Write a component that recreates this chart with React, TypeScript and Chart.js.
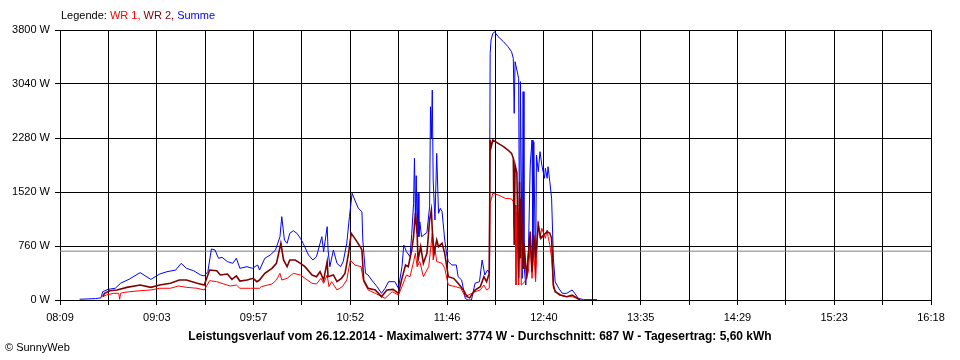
import { useEffect, useRef } from 'react';
import { Chart, registerables } from 'chart.js';

Chart.register(...registerables);

const FONT = '"Liberation Sans", Arial, sans-serif';

const xTickLabels = ['08:09', '09:03', '09:57', '10:52', '11:46', '12:40', '13:35', '14:29', '15:23', '16:18'];
const yTicks = [0, 760, 1520, 2280, 3040, 3800];
const averageW = 687;

const legendParts: [string, string][] = [
  ['Legende: ', '#000000'],
  ['WR 1, ', '#ff0000'],
  ['WR 2, ', '#800000'],
  ['Summe', '#0000ff'],
];
const titleText = 'Leistungsverlauf vom 26.12.2014 - Maximalwert: 3774 W - Durchschnitt: 687 W - Tagesertrag: 5,60 kWh';
const copyrightText = '\u00A9 SunnyWeb';

const summeTimes = [
  '08:20', '08:29', '08:32', '08:33', '08:36', '08:40', '08:43', '08:48', '08:54', '09:00', '09:05', '09:09', '09:14', '09:17', '09:20', '09:24', '09:28', '09:30', '09:32', '09:34', '09:36', '09:38', '09:40', '09:43', '09:46', '09:48', '09:50', '09:54', '09:57', '10:00', '10:01', '10:04', '10:07', '10:10', '10:12:30', '10:13:30', '10:15', '10:16:30', '10:18', '10:20', '10:22', '10:24', '10:25:30', '10:28:30', '10:31', '10:33', '10:35', '10:36', '10:37', '10:39', '10:39:30', '10:40:30', '10:42:30', '10:44:30', '10:46:30', '10:48', '10:50', '10:51:30', '10:53', '10:54:30', '10:56:30', '10:58:30', '10:59', '11:00:30', '11:02', '11:04', '11:07', '11:09:30', '11:11:30', '11:13:30', '11:17', '11:19', '11:21', '11:22', '11:23:30', '11:25:30', '11:26:30', '11:27:30', '11:28', '11:28:30', '11:29', '11:29:30', '11:30', '11:30:30', '11:31', '11:32', '11:35', '11:36:30', '11:37', '11:37:30', '11:38', '11:38:30', '11:39:30', '11:40:30', '11:41:30', '11:42:30', '11:43:30', '11:45', '11:46', '11:47', '11:49', '11:51:30', '11:52:30', '11:54:30', '11:56:30', '11:58', '12:00', '12:02', '12:04:30', '12:06', '12:07:30', '12:09', '12:10', '12:10:30', '12:11', '12:12', '12:13', '12:15', '12:18', '12:20:30', '12:22:30', '12:23:30', '12:24', '12:24:30', '12:26:30', '12:27', '12:27:30', '12:28:30', '12:29', '12:29:30', '12:30:30', '12:32', '12:33', '12:34', '12:34:30', '12:35', '12:36', '12:36:30', '12:37:30', '12:38:30', '12:39:30', '12:41', '12:41:30', '12:42:30', '12:43', '12:44', '12:45', '12:46', '12:47', '12:49', '12:51', '12:53:30', '12:56:30', '12:58', '13:00', '13:03', '13:10:30',
];
const summeValues = [
  10, 20, 30, 117, 150, 165, 235, 295, 385, 290, 366, 398, 422, 516, 446, 412, 352, 338, 398, 718, 704, 587, 601, 540, 516, 587, 446, 469, 446, 493, 422, 587, 633, 704, 891, 1173, 844, 798, 938, 975, 938, 868, 798, 633, 563, 610, 798, 891, 680, 1032, 704, 469, 704, 516, 469, 540, 798, 1173, 1502, 1407, 1290, 1243, 844, 375, 352, 281, 188, 94, 165, 258, 258, 165, 469, 774, 680, 610, 938, 1361, 1994, 1200, 1750, 938, 1502, 891, 1100, 891, 950, 1313, 2720, 2275, 2955, 1689, 1126, 2064, 1220, 1290, 1243, 844, 657, 540, 493, 493, 328, 281, 23, 0, 0, 235, 258, 563, 352, 422, 380, 3471, 3659, 3753, 3774, 3706, 3635, 3565, 3495, 3401, 2627, 3354, 3120, 587, 3073, 305, 2932, 493, 211, 700, 1900, 2252, 587, 2228, 305, 2041, 1806, 2088, 1900, 1713, 1853, 1713, 1876, 1665, 1431, 587, 258, 165, 94, 94, 141, 94, 23, 5, 5,
];

const wr2Times = [
  '08:33', '08:34', '08:37', '08:41', '08:46:30', '08:54', '09:00', '09:05', '09:11', '09:16', '09:20', '09:26', '09:30', '09:33', '09:37', '09:39', '09:43', '09:45:30', '09:48', '09:50', '09:54', '09:57:30', '09:59:30', '10:01', '10:04', '10:08', '10:10:30', '10:13', '10:14:30', '10:16:30', '10:18', '10:21', '10:24', '10:26:30', '10:30:30', '10:33', '10:35', '10:37', '10:39', '10:39:30', '10:42:30', '10:44:30', '10:47', '10:49', '10:51', '10:52:30', '10:54:30', '10:57:30', '10:58:30', '10:59:30', '11:02', '11:06', '11:09:30', '11:12:30', '11:16', '11:19', '11:21', '11:23', '11:24:30', '11:26:30', '11:27:30', '11:28:30', '11:29:30', '11:30', '11:31:30', '11:33', '11:35', '11:36:30', '11:37:30', '11:38', '11:39', '11:40:30', '11:41:30', '11:43:30', '11:45', '11:47', '11:50', '11:52:30', '11:55:30', '11:57:30', '11:59', '12:02', '12:05', '12:07', '12:08:30', '12:10', '12:10:30', '12:11', '12:12', '12:15', '12:18', '12:20:30', '12:22:30', '12:23:30', '12:24', '12:24:30', '12:25:30', '12:26:30', '12:27', '12:27:30', '12:28', '12:29', '12:29:30', '12:31', '12:33', '12:34', '12:35', '12:36', '12:37:30', '12:39', '12:40:30', '12:42:30', '12:44', '12:45', '12:46', '12:47', '12:50', '12:53:30', '12:56:30', '12:59', '13:01',
];
const wr2Values = [
  47, 94, 131, 141, 178, 211, 178, 211, 235, 281, 281, 235, 211, 422, 412, 352, 366, 291, 338, 267, 281, 305, 258, 281, 375, 446, 516, 798, 563, 469, 563, 563, 516, 469, 352, 328, 398, 281, 540, 328, 352, 258, 305, 375, 657, 938, 868, 751, 704, 281, 165, 141, 47, 141, 150, 94, 305, 493, 469, 704, 891, 1220, 938, 563, 751, 516, 657, 1126, 1267, 985, 657, 844, 751, 798, 657, 328, 305, 235, 141, 47, 30, 141, 188, 328, 258, 375, 2252, 2150, 2252, 2205, 2158, 2111, 2064, 1994, 774, 1900, 1790, 305, 1665, 587, 1431, 446, 800, 305, 962, 398, 915, 587, 1055, 868, 915, 962, 938, 868, 211, 117, 70, 47, 70, 33, 0,
];

const wr1Times = [
  '08:33', '08:35', '08:39', '08:42', '08:42:30', '08:43', '08:44', '08:48', '08:54', '09:00', '09:05', '09:11', '09:15:30', '09:20', '09:26', '09:30', '09:33', '09:37', '09:41', '09:44:30', '09:48', '09:50', '09:56', '10:01', '10:02', '10:08', '10:10:30', '10:12:30', '10:13:30', '10:16:30', '10:20', '10:24', '10:26:30', '10:30:30', '10:33', '10:35:30', '10:37', '10:39', '10:40', '10:41:30', '10:44:30', '10:47:30', '10:50', '10:52', '10:54:30', '10:58', '10:59:30', '11:02', '11:06', '11:11:30', '11:15:30', '11:19', '11:21', '11:23:30', '11:25:30', '11:27:30', '11:28:30', '11:29:30', '11:31', '11:33', '11:36', '11:37', '11:38', '11:38:30', '11:39:30', '11:40:30', '11:43:30', '11:45', '11:47', '11:51', '11:54', '11:56:30', '12:02', '12:05', '12:07', '12:08:30', '12:10', '12:10:30', '12:12', '12:15', '12:19', '12:22:30', '12:23:30', '12:24', '12:24:30', '12:25', '12:25:30', '12:26:30', '12:27:30', '12:28', '12:30', '12:32', '12:33', '12:34', '12:35', '12:36', '12:37:30', '12:38:30', '12:39:30', '12:41:30', '12:42:30', '12:43', '12:44', '12:45', '12:46', '12:49', '12:53', '12:56:30', '12:59', '13:01',
];
const wr1Values = [
  47, 70, 94, 94, 10, 94, 103, 117, 131, 141, 165, 165, 197, 178, 165, 141, 272, 258, 225, 197, 211, 165, 165, 165, 188, 225, 281, 375, 281, 305, 375, 352, 305, 235, 225, 305, 235, 352, 188, 258, 141, 188, 281, 563, 493, 469, 258, 141, 94, 23, 117, 70, 188, 352, 328, 540, 657, 469, 540, 328, 469, 704, 938, 563, 727, 540, 516, 446, 211, 188, 165, 47, 117, 141, 211, 141, 165, 1361, 1502, 1478, 1431, 1422, 1384, 1009, 1337, 211, 1243, 211, 1200, 211, 258, 400, 774, 305, 680, 258, 1103, 868, 1009, 868, 985, 891, 774, 587, 165, 70, 47, 47, 23, 0,
];

function toMin(s: string): number {
  const p = s.split(':').map(Number);
  return p[0] * 60 + p[1] + (p[2] || 0) / 60;
}

function series(times: string[], values: number[]) {
  return times.map((t, i) => ({ x: toMin(t), y: values[i] }));
}

export default function App() {
  const ref = useRef<HTMLCanvasElement>(null);

  useEffect(() => {
    document.body.style.margin = '0';
    const canvas = ref.current!;
    const xMin = toMin(xTickLabels[0]);
    const xMax = toMin(xTickLabels[xTickLabels.length - 1]);
    const nGrid = (xTickLabels.length - 1) * 2;
    const step = (xMax - xMin) / nGrid;

    const textPlugin = {
      id: 'sunnyTexts',
      afterDraw(chart: any) {
        const c = chart.ctx;
        c.save();
        c.textBaseline = 'middle';
        c.textAlign = 'left';
        c.font = `11px ${FONT}`;
        let x = 61;
        for (const [t, col] of legendParts) {
          c.fillStyle = col;
          c.fillText(t, x, 16);
          x += c.measureText(t).width;
        }
        c.fillStyle = '#000';
        c.fillText(copyrightText, 5, 348);
        c.font = `bold 12px ${FONT}`;
        c.textAlign = 'center';
        c.fillText(titleText, 480, 337);
        c.restore();
      },
    };

    const chart = new Chart(canvas, {
      type: 'line',
      data: {
        datasets: [
          { label: 'WR 2', data: series(wr2Times, wr2Values), borderColor: '#800000', borderWidth: 1.6, pointRadius: 0, tension: 0, fill: false },
          { label: 'WR 1', data: series(wr1Times, wr1Values), borderColor: '#ff0000', borderWidth: 1, pointRadius: 0, tension: 0, fill: false },
          { label: 'Summe', data: series(summeTimes, summeValues), borderColor: '#0000ff', borderWidth: 1, pointRadius: 0, tension: 0, fill: false },
          { label: 'Durchschnitt', data: [{ x: xMin, y: averageW }, { x: xMax, y: averageW }], borderColor: '#808080', borderWidth: 1, pointRadius: 0, tension: 0, fill: false },
        ],
      },
      options: {
        responsive: false,
        animation: false,
        devicePixelRatio: 1,
        parsing: false as any,
        layout: { padding: { left: 0, right: 29, top: 30, bottom: 0 } },
        plugins: {
          legend: { display: false },
          tooltip: { enabled: false },
          title: { display: false },
        },
        scales: {
          x: {
            type: 'linear',
            min: xMin,
            max: xMax,
            afterBuildTicks: (s: any) => {
              s.ticks = Array.from({ length: nGrid + 1 }, (_, i) => ({ value: xMin + i * step }));
            },
            afterFit: (s: any) => {
              s.height = 60;
            },
            ticks: {
              autoSkip: false,
              maxRotation: 0,
              minRotation: 0,
              padding: 6,
              color: '#000',
              font: { family: FONT, size: 11 },
              callback: (_v: any, i: number) => (i % 2 === 0 ? xTickLabels[i / 2] : ''),
            },
            grid: { color: '#000', lineWidth: 1, tickLength: 5, drawTicks: true },
            border: { display: true, color: '#000', width: 1 },
          },
          y: {
            type: 'linear',
            min: yTicks[0],
            max: yTicks[yTicks.length - 1],
            afterBuildTicks: (s: any) => {
              s.ticks = yTicks.map((v) => ({ value: v }));
            },
            afterFit: (s: any) => {
              s.width = 60;
            },
            ticks: {
              padding: 5,
              color: '#000',
              font: { family: FONT, size: 11 },
              callback: (v: any) => `${v} W`,
            },
            grid: { color: '#000', lineWidth: 1, tickLength: 5, drawTicks: true },
            border: { display: true, color: '#000', width: 1 },
          },
        },
      },
      plugins: [textPlugin],
    });
    return () => chart.destroy();
  }, []);

  return (
    <div style={{ position: 'absolute', left: 0, top: 0, width: 960, height: 360, background: '#fff' }}>
      <canvas ref={ref} width={960} height={360} style={{ display: 'block', width: 960, height: 360 }} />
    </div>
  );
}
